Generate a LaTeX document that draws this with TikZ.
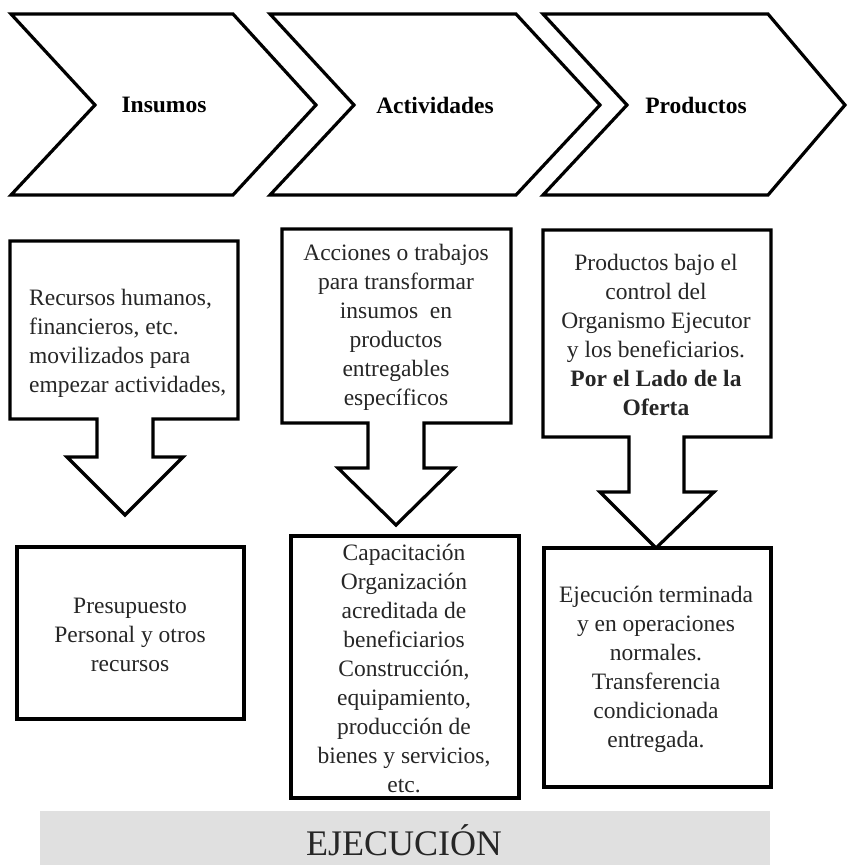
\documentclass[tikz,border=0pt]{standalone}
\usepackage{fontspec}
\setmainfont{Liberation Serif}
\begin{document}
\begin{tikzpicture}[x=1pt,y=-1pt,
  outline/.style={draw=black,line width=3.2pt,line join=miter,fill=white},
  bodytext/.style={inner sep=0pt,font=\fontsize{23.5}{29}\selectfont,text=black!85},
  headtext/.style={inner sep=0pt,font=\fontsize{23.5}{28}\selectfont\bfseries}]
\useasboundingbox (0,0) rectangle (847,865);

% process chevrons
\draw[outline] (11,14) -- (233,14) -- (316,105) -- (233,195) -- (11,195) -- (95,105) -- cycle;
\draw[outline] (270,14) -- (516,14) -- (600,105) -- (516,195) -- (270,195) -- (354,105) -- cycle;
\draw[outline] (543,14) -- (768,14) -- (845,105) -- (768,195) -- (543,195) -- (627,105) -- cycle;
\node[headtext] (h1) at (164,105) {Insumos};
\node[headtext] (h2) at (435,105) {Actividades};
\node[headtext] (h3) at (696,105) {Productos};

% description boxes with down arrows
\draw[outline] (10,241) -- (238,241) -- (238,419) -- (153,419) -- (153,457) -- (183,457)
  -- (125,515) -- (67,457) -- (97,457) -- (97,419) -- (10,419) -- cycle;
\draw[outline] (282,229) -- (511,229) -- (511,423) -- (424,423) -- (424,468) -- (454,468)
  -- (396,525) -- (338,468) -- (368,468) -- (368,423) -- (282,423) -- cycle;
\draw[outline] (543,230) -- (771,230) -- (771,437) -- (684,437) -- (684,492) -- (714,492)
  -- (656,548) -- (600,492) -- (629,492) -- (629,437) -- (543,437) -- cycle;

\node[bodytext,align=left,anchor=west] (d1) at (29,343)
  {Recursos humanos,\\financieros, etc.\\movilizados para\\empezar actividades,};
\node[bodytext,align=center] (d2) at (396,327)
  {Acciones o trabajos\\para transformar\\insumos\ \ en\\productos\\entregables\\específicos};
\node[bodytext,align=center] (d3) at (656,335)
  {Productos bajo el\\control del\\Organismo Ejecutor\\y los beneficiarios.\\\textbf{Por el Lado de la}\\\textbf{Oferta}};

% result boxes
\draw[outline] (17,547) rectangle (244,719);
\draw[outline] (291,536) rectangle (519,798);
\draw[outline] (544,548) rectangle (771,787);

\node[bodytext,align=center] (r1) at (130,635)
  {Presupuesto\\Personal y otros\\recursos};
\node[bodytext,align=center] (r2) at (404,668)
  {Capacitación\\Organización\\acreditada de\\beneficiarios\\Construcción,\\equipamiento,\\producción de\\bienes y servicios,\\etc.};
\node[bodytext,align=center] (r3) at (656,669)
  {Ejecución terminada\\y en operaciones\\normales.\\Transferencia\\condicionada\\entregada.};

% stage band
\fill[black!12] (40,811) rectangle (770,865);
\node[inner sep=0pt,font=\fontsize{36}{40}\selectfont,text=black!85] (band) at (404,840) {EJECUCIÓN};
\end{tikzpicture}
\end{document}
